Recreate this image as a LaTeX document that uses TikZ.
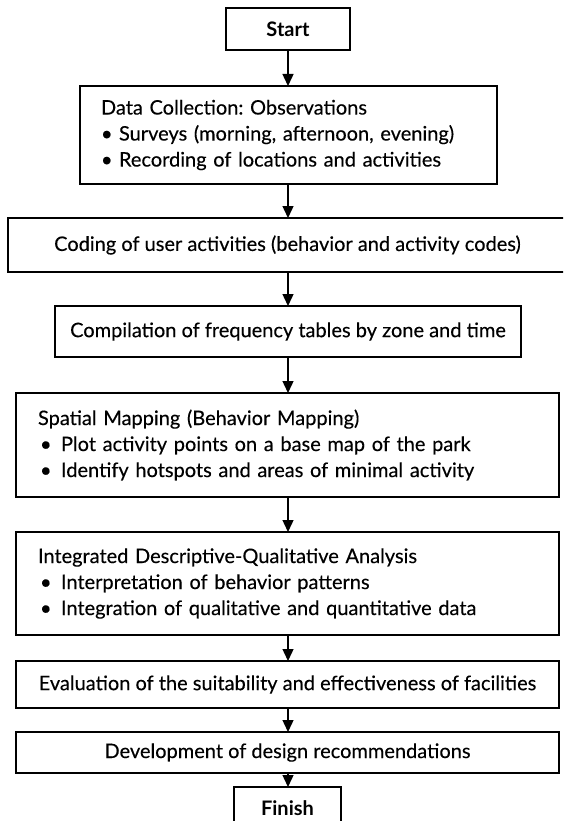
\documentclass[tikz,border=0pt]{standalone}
\usepackage{fontspec}
\setmainfont{Lato}[UprightFeatures={FakeBold=0.25}]
\usetikzlibrary{arrows.meta}
\begin{document}
\frenchspacing
\begin{tikzpicture}[x=1pt,y=-1pt,
  box/.style={draw=black, line width=1.4pt, inner sep=0pt, outer sep=0pt,
    font=\fontsize{20}{26}\selectfont},
  lbox/.style={box, align=left},
  arr/.style={line width=1.4pt, -{Triangle[width=11pt,length=12pt]}}]
\useasboundingbox (0,0) rectangle (563,821);
\clip (0,0) rectangle (563,821);
\node[box, minimum width=124pt, minimum height=42pt, font=\fontsize{20}{26}\selectfont\bfseries] (start) at (288,29) {Start};
\node[lbox, minimum width=417pt, minimum height=98pt, text width=375pt] (data) at (288.5,135)
  {Data Collection: Observations\\
   \makebox[18pt][l]{\textbullet}Surveys (morning, afternoon, evening)\\
   \makebox[18pt][l]{\textbullet}Recording of locations and activities};
\node[box, minimum width=559pt, minimum height=54pt] (coding) at (287.5,245)
  {Coding of user activities (behavior and activity codes)};
\node[box, minimum width=466pt, minimum height=51pt] (comp) at (288,331.5)
  {Compilation of frequency tables by zone and time};
\node[lbox, minimum width=543pt, minimum height=104pt, text width=499pt] (spatial) at (287.5,445)
  {Spatial Mapping (Behavior Mapping)\\
   \makebox[23pt][l]{\hspace{2pt}\textbullet}Plot activity points on a base map of the park\\
   \makebox[23pt][l]{\hspace{2pt}\textbullet}Identify hotspots and areas of minimal activity};
\node[lbox, minimum width=543pt, minimum height=103pt, text width=499pt] (integ) at (287.5,583.5)
  {Integrated Descriptive-Qualitative Analysis\\
   \makebox[23pt][l]{\hspace{2pt}\textbullet}Interpretation of behavior patterns\\
   \makebox[23pt][l]{\hspace{2pt}\textbullet}Integration of qualitative and quantitative data};
\node[box, minimum width=543pt, minimum height=47pt] (eval) at (287.5,684.5)
  {Evaluation of the suitability and effectiveness of facilities};
\node[box, minimum width=543pt, minimum height=41pt] (dev) at (287.5,752.5)
  {Development of design recommendations};
\node[box, minimum width=107pt, minimum height=42pt, font=\fontsize{20}{26}\selectfont\bfseries] (finish) at (287.5,808) {Finish};
\draw[arr] (start.south) -- (start.south |- data.north);
\draw[arr] (start.south |- data.south) -- (start.south |- coding.north);
\draw[arr] (start.south |- coding.south) -- (start.south |- comp.north);
\draw[arr] (start.south |- comp.south) -- (start.south |- spatial.north);
\draw[arr] (start.south |- spatial.south) -- (start.south |- integ.north);
\draw[arr] (start.south |- integ.south) -- (start.south |- eval.north);
\draw[arr] (start.south |- eval.south) -- (start.south |- dev.north);
\draw[arr] (start.south |- dev.south) -- (finish.north -| start.south);
\end{tikzpicture}
\end{document}
